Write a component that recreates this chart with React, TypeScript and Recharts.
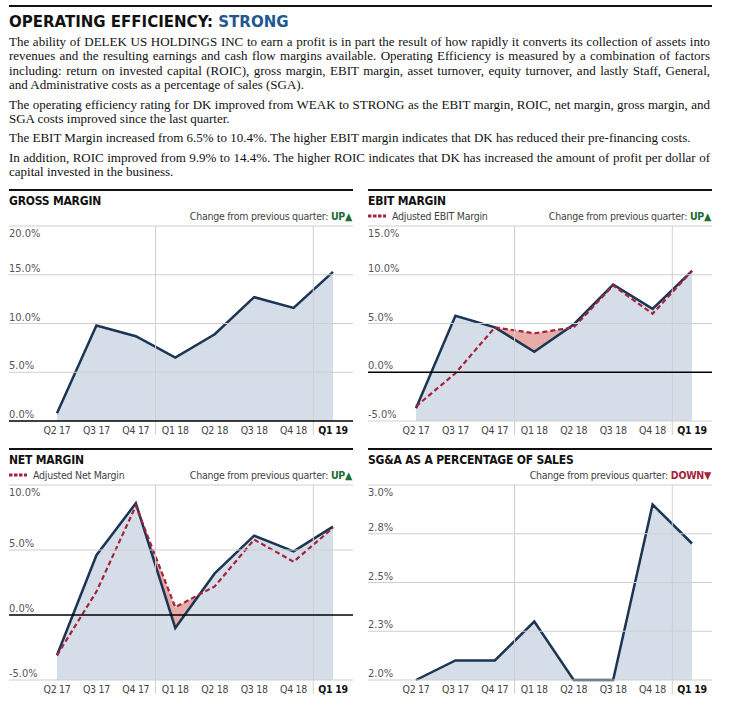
import React from 'react';
import { ComposedChart, Area, Line, XAxis, YAxis } from 'recharts';

// quarters and values read off the reference picture (percent)
const QUARTERS = ['Q2 17', 'Q3 17', 'Q4 17', 'Q1 18', 'Q2 18', 'Q3 18', 'Q4 18', 'Q1 19'];
const GROSS = [0.8, 9.8, 8.7, 6.5, 8.9, 12.7, 11.6, 15.3];
const EBIT = [-3.7, 5.8, 4.6, 2.1, 4.9, 9.0, 6.5, 10.4];
const EBIT_ADJ = [-3.5, -0.1, 4.6, 4.0, 4.6, 8.9, 6.0, 10.4];
const NET = [-3.1, 4.6, 8.6, -1.0, 3.2, 6.1, 4.9, 6.8];
const NET_ADJ = [-3.1, 1.8, 8.4, 0.6, 2.2, 5.8, 4.1, 6.7];
const SGA = [2.0, 2.1, 2.1, 2.3, 2.0, 2.0, 2.9, 2.7];

const GROSS_TICKS = [0, 5, 10, 15, 20];
const EBIT_TICKS = [-5, 0, 5, 10, 15];
const NET_TICKS = [-5, 0, 5, 10];
const SGA_TICKS = [2, 2.25, 2.5, 2.75, 3];

const PARAGRAPHS = [
  [
    'The ability of DELEK US HOLDINGS INC to earn a profit is in part the result of how rapidly it converts its collection of assets into',
    'revenues and the resulting earnings and cash flow margins available. Operating Efficiency is measured by a combination of factors',
    'including: return on invested capital (ROIC), gross margin, EBIT margin, asset turnover, equity turnover, and lastly Staff, General,',
    'and Administrative costs as a percentage of sales (SGA).',
  ],
  [
    'The operating efficiency rating for DK improved from WEAK to STRONG as the EBIT margin, ROIC, net margin, gross margin, and',
    'SGA costs improved since the last quarter.',
  ],
  ['The EBIT Margin increased from 6.5% to 10.4%. The higher EBIT margin indicates that DK has reduced their pre-financing costs.'],
  [
    'In addition, ROIC improved from 9.9% to 14.4%. The higher ROIC indicates that DK has increased the amount of profit per dollar of',
    'capital invested in the business.',
  ],
];

const SANS = "'DejaVu Sans Condensed', 'Liberation Sans Narrow', Roboto, sans-serif";
const SERIF = "'Liberation Serif', 'DejaVu Serif', serif";

const NAVY = '#1b3552';
const RED = '#a3243b';
const FILL = '#d5dde8';
const RED_FILL = '#e7aca7';
const GRID = '#cfcfcf';
const GREEN = '#1e6b34';

const PANEL_W = 344;
const PLOT_H = 195;
const PAD_L = 48;
const PAD_R = 20;
const STEP = (PANEL_W - PAD_L - PAD_R) / (QUARTERS.length - 1);
const TOP = 2;
const AXIS_H = 26;
const Y_W = 1;

function MarginChart({ id, main, adj, ticks, decimals }: any) {
  const data = QUARTERS.map((q, i) => ({ q, main: main[i], adj: adj ? adj[i] : undefined }));
  const maxTick = ticks[ticks.length - 1];

  const YTick = (props: any) => {
    const { y, payload } = props;
    const v = payload.value;
    const isTop = v === maxTick;
    return (
      <g>
        <line
          x1={Y_W}
          x2={Y_W + PANEL_W}
          y1={y}
          y2={y}
          stroke={v === 0 ? '#000' : GRID}
          strokeWidth={v === 0 ? 1.3 : 1}
        />
        <text
          x={Y_W}
          y={isTop ? y + 11 : y - 3}
          textAnchor="start"
          fontSize={11}
          fontFamily={SANS}
          fill="#555"
        >
          {v.toFixed(decimals)}%
        </text>
      </g>
    );
  };

  const XTick = (props: any) => {
    const { x, y, payload } = props;
    const label = String(payload.value);
    const last = label === QUARTERS[QUARTERS.length - 1];
    return (
      <g>
        {label.startsWith('Q1') && (
          <line
            x1={x - STEP / 2}
            x2={x - STEP / 2}
            y1={y - PLOT_H}
            y2={y + 14}
            stroke={GRID}
            strokeWidth={1}
          />
        )}
        <text
          x={x}
          y={y + 13}
          textAnchor="middle"
          fontSize={10.5}
          letterSpacing={-0.3}
          fontFamily={SANS}
          fontWeight={last ? 700 : 400}
          fill={last ? '#111' : '#444'}
        >
          {label}
        </text>
      </g>
    );
  };

  return (
    <ComposedChart
      width={PANEL_W + Y_W}
      height={TOP + PLOT_H + AXIS_H}
      data={data}
      margin={{ top: TOP, right: 0, bottom: 0, left: 0 }}
    >
      <defs>
        <pattern id={`dots-${id}`} width={4} height={4} patternUnits="userSpaceOnUse">
          <rect width={4} height={4} fill={FILL} />
          <circle cx={1} cy={1} r={0.45} fill="#e9edf3" />
        </pattern>
      </defs>
      {adj && (
        <Area
          dataKey="adj"
          type="linear"
          stroke="none"
          fill={RED_FILL}
          fillOpacity={1}
          baseValue="dataMin"
          dot={false}
          activeDot={false}
          isAnimationActive={false}
        />
      )}
      <Area
        dataKey="main"
        type="linear"
        stroke={NAVY}
        strokeWidth={2.5}
        fill={`url(#dots-${id})`}
        fillOpacity={1}
        baseValue="dataMin"
        dot={false}
        activeDot={false}
        isAnimationActive={false}
      />
      {adj && (
        <Line
          dataKey="adj"
          type="linear"
          stroke={RED}
          strokeWidth={2.2}
          strokeDasharray="5 3"
          dot={false}
          activeDot={false}
          isAnimationActive={false}
        />
      )}
      <XAxis
        dataKey="q"
        padding={{ left: PAD_L, right: PAD_R }}
        axisLine={false}
        tickLine={false}
        tickSize={0}
        tickMargin={0}
        interval={0}
        height={AXIS_H}
        tick={XTick}
      />
      <YAxis
        type="number"
        domain={[ticks[0], maxTick]}
        ticks={ticks}
        interval={0}
        width={Y_W}
        axisLine={false}
        tickLine={false}
        tickSize={0}
        tickMargin={0}
        tick={YTick}
      />
    </ComposedChart>
  );
}

const smallText: React.CSSProperties = {
  lineHeight: '14px',
  fontSize: 10.5,
  letterSpacing: -0.25,
  fontFamily: SANS,
  color: '#444',
  whiteSpace: 'nowrap',
};

function Panel({ left, rule, title, legend, change, children }: any) {
  const up = change === 'UP';
  return (
    <>
      <div style={{ position: 'absolute', left, top: rule - 1, width: PANEL_W, height: 2, background: '#111' }} />
      <div
        style={{
          position: 'absolute',
          left,
          top: rule + 3,
          lineHeight: '16px',
          fontSize: 12,
          letterSpacing: -0.2,
          fontWeight: 700,
          fontFamily: SANS,
          color: '#111',
          whiteSpace: 'nowrap',
        }}
      >
        {title}
      </div>
      {legend && (
        <div
          style={{
            ...smallText,
            position: 'absolute',
            left,
            top: rule + 19,
            display: 'flex',
            alignItems: 'center',
          }}
        >
          <svg width={22} height={6} style={{ marginRight: 2 }}>
            <line x1={0} x2={18} y1={3} y2={3} stroke={RED} strokeWidth={3} strokeDasharray="3.5 1.5" />
          </svg>
          {legend}
        </div>
      )}
      <div
        style={{
          ...smallText,
          position: 'absolute',
          left,
          top: rule + 19,
          width: PANEL_W - 1,
          textAlign: 'right',
        }}
      >
        Change from previous quarter:{' '}
        <span style={{ fontWeight: 700, color: up ? GREEN : RED }}>{up ? 'UP▲' : 'DOWN▼'}</span>
      </div>
      <div style={{ position: 'absolute', left: left - Y_W, top: rule + 36 - TOP }}>{children}</div>
    </>
  );
}

export default function App() {
  const lineTops = [
    [42.3, 56.6, 70.9, 85.2],
    [105, 119.3],
    [138.3],
    [157.7, 172.2],
  ];
  return (
    <div
      style={{
        position: 'absolute',
        left: 0,
        top: 0,
        width: 741,
        height: 708,
        background: '#fff',
        overflow: 'hidden',
      }}
    >
      <div style={{ position: 'absolute', left: 9, top: 5, width: 703, height: 2, background: '#111' }} />
      <div
        style={{
          position: 'absolute',
          left: 9,
          top: 10,
          lineHeight: '22px',
          fontSize: 16.7,
          fontWeight: 700,
          fontFamily: SANS,
          color: '#111',
          whiteSpace: 'nowrap',
        }}
      >
        OPERATING EFFICIENCY: <span style={{ color: '#22588f' }}>STRONG</span>
      </div>
      {PARAGRAPHS.map((para, pi) =>
        para.map((line, li) => {
          const justify = li < para.length - 1;
          return (
            <div
              key={`${pi}-${li}`}
              style={{
                position: 'absolute',
                left: 9,
                top: lineTops[pi][li] - 7.2,
                width: 701,
                lineHeight: '14.4px',
                fontSize: 13,
                fontFamily: SERIF,
                color: '#111',
                whiteSpace: 'nowrap',
                textAlign: justify ? 'justify' : 'left',
                textAlignLast: justify ? 'justify' : 'left',
              }}
            >
              {line}
            </div>
          );
        })
      )}

      <Panel left={9} rule={190} title="GROSS MARGIN" change="UP">
        <MarginChart id="gross" main={GROSS} ticks={GROSS_TICKS} decimals={1} />
      </Panel>
      <Panel left={368} rule={190} title="EBIT MARGIN" legend="Adjusted EBIT Margin" change="UP">
        <MarginChart id="ebit" main={EBIT} adj={EBIT_ADJ} ticks={EBIT_TICKS} decimals={1} />
      </Panel>
      <Panel left={9} rule={449} title="NET MARGIN" legend="Adjusted Net Margin" change="UP">
        <MarginChart id="net" main={NET} adj={NET_ADJ} ticks={NET_TICKS} decimals={1} />
      </Panel>
      <Panel left={368} rule={449} title="SG&A AS A PERCENTAGE OF SALES" change="DOWN">
        <MarginChart id="sga" main={SGA} ticks={SGA_TICKS} decimals={1} />
      </Panel>
    </div>
  );
}
